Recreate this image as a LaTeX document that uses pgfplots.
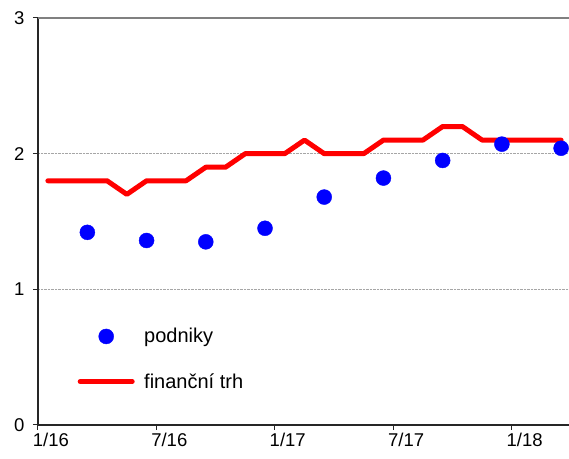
\documentclass[border=0pt]{standalone}
\usepackage{fontspec}
\setmainfont{Liberation Sans}
\usepackage{pgfplots}
\pgfplotsset{compat=1.18}

% month index: 0 = 1/16 ... 26 = 3/18
\pgfplotstableread{
m  trh
0  1.8
1  1.8
2  1.8
3  1.8
4  1.7
5  1.8
6  1.8
7  1.8
8  1.9
9  1.9
10 2.0
11 2.0
12 2.0
13 2.1
14 2.0
15 2.0
16 2.0
17 2.1
18 2.1
19 2.1
20 2.2
21 2.2
22 2.1
23 2.1
24 2.1
25 2.1
26 2.1
}\trh

\pgfplotstableread{
m  podniky
2  1.42
5  1.36
8  1.35
11 1.45
14 1.68
17 1.82
20 1.95
23 2.07
26 2.04
}\podniky

\definecolor{trhred}{RGB}{255,0,0}
\definecolor{podblue}{RGB}{0,0,255}

\pgfplotsset{
  dotlegend/.style={legend image code/.code={\draw[##1] plot coordinates {(26pt,0pt)};}},
  linelegend/.style={legend image code/.code={\draw[##1] (0pt,0pt) -- (52pt,0pt);}},
}

\begin{document}
\begin{tikzpicture}
\begin{axis}[
    name=ax,
    scale only axis,
    width=531pt, height=407pt,
    xmin=-0.5, xmax=26.4,
    ymin=0, ymax=3,
    axis lines=left,
    axis line style={-, line width=1.5pt, black!85},
    tick align=outside,
    major tick length=5pt,
    tick style={line width=1pt, black!85},
    ytick={0,1,2},
    extra y ticks={3},
    ymajorgrids,
    grid style={densely dotted, black!35, line width=0.6pt},
    extra y tick style={major grid style={solid, black!50, line width=1.6pt}},
    xtick={-0.5,5.5,11.5,17.5,23.5},
    xticklabels={},
    extra x ticks={0,6,12,18,24},
    extra x tick labels={1/16,7/16,1/17,7/17,1/18},
    extra x tick style={major tick length=0pt, xticklabel style={xshift=3pt}},
    /pgf/number format/assume math mode=true,
    tick label style={font=\fontsize{18.5}{22}\selectfont},
    xticklabel style={yshift=-5pt},
    yticklabel style={xshift=-5pt},
    reverse legend,
    legend style={draw=none, fill=none, at={(0.0744,0.162)}, anchor=west,
        inner sep=0pt, row sep=25pt, cells={anchor=west},
        nodes={inner xsep=4.5pt, inner ysep=2pt},
        /tikz/every odd column/.append style={column sep=5pt},
        font=\fontsize{20}{24}\selectfont},
]
\addplot[trhred, line width=5pt, line join=round, line cap=round, linelegend]
    table[x=m, y=trh] {\trh};
\addlegendentry{finanční trh}
\addplot[only marks, mark=*, mark size=7.5pt, podblue, mark options={draw=podblue, fill=podblue}, dotlegend]
    table[x=m, y=podniky] {\podniky};
\addlegendentry{podniky}
\end{axis}
\pgfresetboundingbox
\path[use as bounding box] ([shift={(-38pt,-34pt)}]ax.south west) rectangle ([shift={(0pt,18pt)}]ax.north east);
\end{tikzpicture}
\end{document}
